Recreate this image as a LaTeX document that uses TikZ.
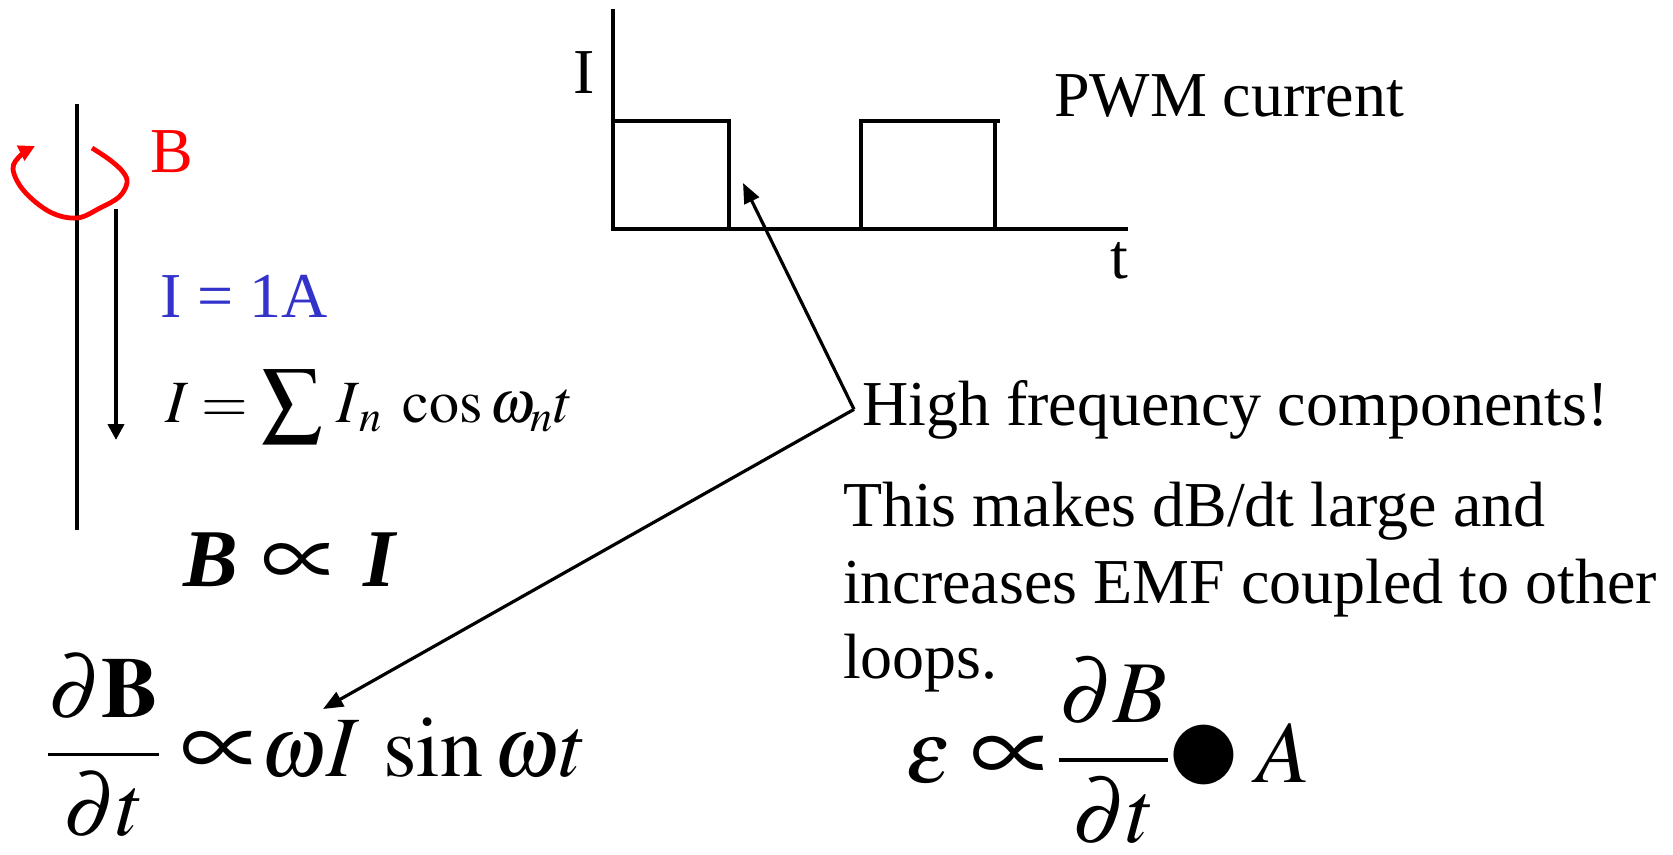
\documentclass[tikz,border=0pt]{standalone}
\usepackage{mathptmx}
\usepackage{fontspec}
\setmainfont{Liberation Serif}
\usepackage{graphicx}
\usetikzlibrary{arrows.meta}
\definecolor{loopred}{RGB}{255,0,0}
\definecolor{curblue}{RGB}{51,51,204}
\newcommand{\bigprop}{\mathrel{\vcenter{\hbox{\scalebox{1.3}{$\propto$}}}}}
\tikzset{
  lbl/.style={inner sep=0pt, outer sep=0pt, anchor=base west, font=\fontsize{32}{38}\selectfont},
  wire/.style={line width=2pt},
  conn/.style={line width=1.6pt, -{Triangle[length=10pt,width=8pt]}},
}
\begin{document}
\begin{tikzpicture}[x=0.5pt,y=-0.5pt]
\useasboundingbox (0,0) rectangle (1673,855);
% wire with field loop
\draw[wire] (77,104) -- (77,530);
\draw[loopred, line width=2.4pt, -{Triangle[length=8pt,width=8pt]}]
  plot[smooth, tension=0.6] coordinates {(92,148) (110,160) (123,172) (127,183) (119,197) (100,208) (77,218) (50,212) (24,191) (13,169) (21,155) (35,146)};
\node[lbl, text=loopred] (Blbl) at (150,173) {B};
\draw[wire, -{Triangle[length=8pt,width=8pt]}] (116,209) -- (116,440);
\node[lbl, text=curblue] (Ione) at (160,317) {I = 1A};
\node[lbl, font=\fontsize{30}{36}\selectfont] (Isum) at (165,422)
  {$I = \displaystyle\sum\nolimits\, I_{\,n}\;\cos\omega_n t$};
\node[lbl, font=\fontsize{41}{48}\selectfont] (BpI) at (183,586)
  {\textbf{\textit{B}}\hspace{12pt}$\bigprop$\hspace{13pt}\textbf{\textit{I}}};
\node[lbl, font=\fontsize{43}{50}\selectfont] (dBdt) at (46,776)
  {$\displaystyle\frac{\partial\mathbf{B}}{\partial t}\bigprop\mkern-4mu\omega I\mkern3mu\sin\omega t$};
% PWM graph
\draw[wire] (613,9) -- (613,229);
\draw[wire] (611,229) -- (1128,229);
\draw[wire] (613,121) -- (729,121) -- (729,229);
\draw[wire] (861,229) -- (861,121) -- (1000,121);
\draw[wire] (995,121) -- (995,229);
\node[lbl] (Iax) at (573,94) {I};
\node[lbl] (tax) at (1110,279) {t};
\node[lbl] (pwm) at (1054,117) {PWM current};
% text
\node[lbl] (hf) at (862,425) {High frequency components!};
\node[lbl] (p1) at (843,526) {This makes dB/dt large and};
\node[lbl] (p2) at (843,603) {increases EMF coupled to other};
\node[lbl] (p3) at (843,678) {loops.};
\node[lbl, font=\fontsize{44}{52}\selectfont] (emf) at (905,782)
  {$\varepsilon\bigprop\mkern-3mu\displaystyle\frac{\partial B}{\partial t}\mkern-1mu\vcenter{\hbox{\scalebox{1.75}{$\bullet$}}}\mkern3mu A$};
% connectors
\coordinate (tipA) at (743,183);
\coordinate (tipB) at (323,709);
\draw[conn] ([xshift=-4pt]hf.west) -- (tipA);
\draw[conn] ([xshift=-4pt]hf.west) -- (tipB);
\end{tikzpicture}
\end{document}
